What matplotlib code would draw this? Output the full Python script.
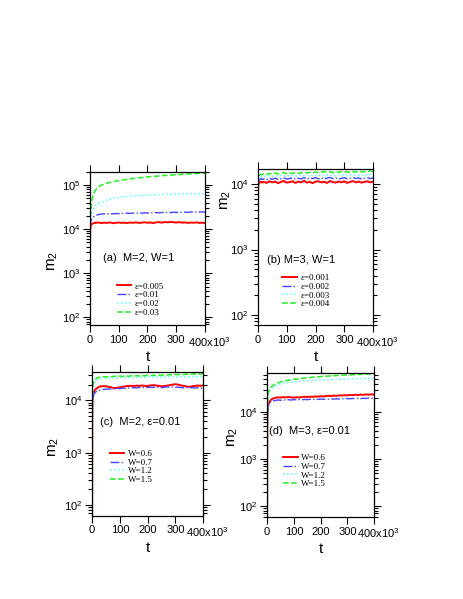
import matplotlib
matplotlib.use("Agg")
import matplotlib.pyplot as plt
import matplotlib.transforms as mtransforms
from matplotlib.ticker import LogLocator, NullFormatter

plt.rcParams['font.family'] = ['Liberation Sans', 'DejaVu Sans']
plt.rcParams['mathtext.fontset'] = 'custom'
plt.rcParams['mathtext.rm'] = 'Liberation Sans'
plt.rcParams['mathtext.it'] = 'Liberation Sans:italic'
plt.rcParams['mathtext.default'] = 'regular'

# time in units of 10^3, m2 in units of 10^3
t = [0, 0.5, 1, 2, 4, 7, 10, 15, 20,
     30, 40, 50, 60, 70, 80, 90, 100, 110, 120,
     130, 140, 150, 160, 170, 180, 190, 200, 210, 220,
     230, 240, 250, 260, 270, 280, 290, 300, 310, 320,
     330, 340, 350, 360, 370, 380, 390, 400]

# (a) M=2, W=1
a_eps005 = [0.05, 3, 8, 11, 12.5, 13.2, 13.5, 13.8, 14.0,
            14.2, 13.8, 14.1, 13.9, 14.3, 13.7, 14.0, 14.2, 13.9, 14.1,
            13.8, 14.2, 14.0, 14.3, 13.9, 14.1, 14.4, 14.0, 14.2, 13.8,
            14.3, 14.5, 14.1, 14.6, 14.3, 14.7, 14.4, 14.2, 14.5, 14.1,
            14.3, 13.9, 14.2, 14.0, 14.3, 13.9, 14.1, 13.8]
a_eps01 = [0.05, 3.5, 9, 13, 15.5, 17, 18, 19.5, 20.5,
           21.5, 22, 22.3, 22, 22.6, 22.3, 22.8, 22.5, 23, 22.7,
           23.1, 22.8, 23.3, 23, 23.4, 23.1, 23.6, 23.2, 23.7, 23.4,
           23.9, 23.5, 24, 23.7, 24.2, 23.9, 24.3, 24, 24.5, 24.1,
           24.4, 24.2, 24.6, 24.3, 24.7, 24.4, 24.8, 24.5]
a_eps02 = [0.05, 4, 10, 15, 20, 24, 27, 31, 34,
           38, 41, 44, 46, 48.5, 50, 52, 53, 54, 55.5,
           56, 57, 57.5, 58.5, 58, 59, 59.5, 60, 60.5, 60,
           61, 61.5, 61, 62, 62.5, 62, 63, 62.5, 63, 63.5,
           63, 64, 63.5, 64, 64.5, 64, 63.5, 64]
a_eps03 = [0.05, 4, 11, 18, 30, 45, 55, 68, 78,
           92, 100, 106, 111, 116, 120, 124, 127, 130, 133,
           136, 139, 142, 144, 147, 149, 151, 154, 156, 158,
           160, 162, 164, 166, 167, 169, 171, 173, 174, 176,
           177, 179, 181, 182, 184, 185, 187, 188]

# (b) M=3, W=1
b_eps001 = [0.06, 5, 8.5, 9.8, 10.3, 10.6, 10.9, 10.5, 10.8,
            10.4, 11.0, 10.6, 10.9, 10.3, 10.8, 11.1, 10.5, 10.7, 11.0,
            10.4, 10.9, 10.6, 11.2, 10.5, 10.8, 10.3, 10.9, 11.0, 10.6,
            10.8, 10.4, 11.1, 10.7, 10.5, 10.9, 10.6, 11.0, 10.4, 10.8,
            11.1, 10.6, 10.9, 10.5, 10.8, 11.0, 10.6, 10.9]
b_eps002 = [0.06, 5.5, 9, 10.8, 11.4, 11.8, 12.1, 11.7, 12.0,
            11.6, 12.2, 11.8, 12.3, 11.7, 12.0, 12.4, 11.9, 12.1, 12.5,
            11.8, 12.2, 12.0, 12.6, 11.9, 12.3, 12.1, 12.5, 12.0, 12.4,
            11.9, 12.3, 12.6, 12.1, 12.4, 11.9, 12.2, 12.5, 12.0, 12.3,
            12.6, 12.1, 12.4, 11.9, 12.3, 12.5, 12.1, 12.4]
b_eps003 = [0.06, 6, 9.5, 11.5, 12.3, 12.8, 13.1, 12.9, 13.2,
            13.0, 13.4, 13.1, 13.6, 13.2, 13.5, 13.1, 13.7, 13.3, 13.6,
            13.2, 13.5, 13.8, 13.3, 13.6, 13.2, 13.7, 13.4, 13.8, 13.3,
            13.6, 13.9, 13.4, 13.7, 13.3, 13.8, 13.5, 13.9, 13.4, 13.7,
            14.0, 13.5, 13.8, 13.4, 13.9, 13.6, 14.0, 13.7]
b_eps004 = [0.06, 6.5, 10, 12.3, 13.2, 13.8, 14.1, 13.9, 14.3,
            14.0, 14.5, 14.2, 14.7, 14.3, 14.6, 14.9, 14.4, 14.8, 14.5,
            15.0, 14.6, 14.9, 15.2, 14.7, 15.1, 14.8, 15.3, 14.9, 15.2,
            15.5, 15.0, 15.3, 14.9, 15.4, 15.1, 15.6, 15.2, 15.4, 15.0,
            15.5, 15.2, 15.7, 15.3, 15.6, 15.4, 15.8, 15.5]

# (c) M=2, eps=0.01
c_w06 = [0.06, 4, 8, 11.5, 13.5, 14.8, 15.8, 16.8, 17.6,
         18.5, 18.8, 18.6, 18.2, 17.6, 17.2, 17.4, 17.8, 18.3, 18.6,
         18.9, 19.1, 18.8, 19.2, 18.9, 19.3, 19.0, 18.8, 19.4, 19.6,
         19.3, 19.0, 18.6, 18.9, 19.2, 19.6, 20.1, 20.4, 20.0, 19.4,
         18.9, 18.5, 18.2, 18.6, 18.9, 19.3, 19.0, 19.5]
c_w07 = [0.06, 3.5, 7, 10, 12, 13.2, 14.0, 14.8, 15.3,
         15.8, 16.2, 16.5, 16.4, 16.7, 16.6, 17.0, 16.8, 17.2, 17.0,
         17.4, 17.2, 17.6, 17.3, 17.7, 17.5, 17.9, 17.6, 18.0, 17.7,
         18.1, 17.8, 17.5, 17.9, 18.2, 17.8, 18.1, 17.7, 18.0, 17.6,
         17.4, 17.7, 17.3, 17.6, 17.2, 17.5, 17.1, 17.0]
c_w12 = [0.06, 5, 10, 15, 19, 21.5, 23, 24.5, 25.3,
         26.0, 26.5, 26.2, 26.8, 26.4, 27.0, 26.6, 27.2, 26.8, 27.4,
         27.0, 27.5, 27.1, 27.7, 27.3, 27.8, 27.4, 28.0, 27.5, 28.1,
         27.7, 28.2, 27.8, 28.4, 27.9, 28.5, 28.0, 28.6, 28.1, 28.7,
         28.2, 28.8, 28.3, 28.9, 28.4, 28.7, 28.3, 28.8]
c_w15 = [0.06, 5.5, 11, 16.5, 21, 23.5, 25, 26.5, 27.3,
         28.0, 28.6, 28.1, 28.9, 28.4, 29.1, 28.6, 29.3, 28.8, 29.5,
         29.0, 29.6, 29.1, 29.8, 29.3, 30.0, 29.5, 30.2, 29.7, 30.4,
         29.9, 30.6, 30.1, 30.9, 30.4, 31.2, 30.7, 31.5, 31.0, 31.8,
         31.3, 32.0, 31.5, 32.3, 31.7, 32.5, 31.9, 32.6]

# (d) M=3, eps=0.01
d_w06 = [0.06, 4, 8, 11.5, 14, 15.8, 17, 18.3, 19.2,
         20.0, 20.5, 20.3, 20.8, 20.4, 20.9, 20.5, 20.2, 20.7, 20.4,
         20.9, 21.2, 20.8, 21.3, 21.0, 21.5, 21.2, 21.7, 21.4, 21.9,
         22.2, 21.8, 22.4, 22.1, 22.7, 22.4, 22.9, 22.6, 23.1, 22.8,
         23.3, 23.0, 23.5, 23.2, 23.7, 23.4, 23.8, 23.5]
d_w07 = [0.06, 3.5, 7, 10.5, 13, 14.6, 15.6, 16.5, 17.1,
         17.6, 18.0, 17.8, 18.2, 17.9, 18.3, 18.0, 18.4, 18.1, 18.5,
         18.2, 18.6, 18.3, 18.7, 18.4, 18.8, 18.5, 18.9, 18.6, 19.0,
         18.7, 19.1, 18.8, 19.2, 18.9, 19.3, 19.0, 19.4, 19.1, 19.5,
         19.2, 19.6, 19.3, 19.7, 19.4, 19.8, 19.5, 19.8]
d_w12 = [0.06, 6, 12, 18, 23, 26.5, 28.5, 31, 33,
         35.5, 37.5, 39.5, 40.5, 41.5, 42.5, 43.0, 43.8, 44.3, 45.0,
         45.3, 45.9, 46.2, 46.7, 46.9, 47.4, 47.5, 48.0, 48.1, 48.6,
         48.7, 49.1, 49.2, 49.6, 49.6, 50.0, 50.1, 50.4, 50.5, 50.8,
         50.9, 51.1, 51.3, 51.4, 51.6, 51.7, 51.9, 52.0]
d_w15 = [0.06, 6.5, 13, 20, 25, 29, 31.5, 34, 36,
         39, 41.5, 43.5, 45, 46.3, 47.5, 48.5, 49.5, 50.3, 51.2,
         52, 52.8, 53.5, 54.2, 54.8, 55.5, 56, 56.6, 57.1, 57.7,
         58.2, 58.7, 59.2, 59.7, 60.1, 60.6, 61, 61.4, 61.8, 62.2,
         62.6, 63, 63.3, 63.7, 64, 64.3, 64.6, 65]

xticks = [0, 100, 200, 300, 400]
xticklabels = ['0', '100', '200', '300', '400x10$^3$']

styles = [dict(color='#ff0000', ls='-', lw=1.4),
          dict(color='#4444ff', ls='-.', lw=1.0),
          dict(color='#55ffff', ls=':', lw=1.1),
          dict(color='#22ee22', ls='--', lw=1.1)]

panels = [
    dict(rect=[0.194, 0.457, 0.249, 0.256], ylim=(66, 2.0e5),
         series=[a_eps005, a_eps01, a_eps02, a_eps03],
         labels=['ε=0.005', 'ε=0.01', 'ε=0.02', 'ε=0.03'],
         title='(a)  M=2, W=1', tpos=(0.11, 0.44), lpos=(0.235, 0.28),
         ylab=(-0.26, 0.42)),
    dict(rect=[0.557, 0.457, 0.249, 0.261], ylim=(70, 1.7e4),
         series=[b_eps001, b_eps002, b_eps003, b_eps004],
         labels=['ε=0.001', 'ε=0.002', 'ε=0.003', 'ε=0.004'],
         title='(b) M=3, W=1', tpos=(0.08, 0.42), lpos=(0.21, 0.33),
         ylab=(-0.22, 0.80)),
    dict(rect=[0.199, 0.139, 0.240, 0.240], ylim=(62, 3.5e4),
         series=[c_w06, c_w07, c_w12, c_w15],
         labels=['W=0.6', 'W=0.7', 'W=1.2', 'W=1.5'],
         title='(c)  M=2, ε=0.01', tpos=(0.07, 0.65), lpos=(0.16, 0.46),
         ylab=(-0.28, 0.48)),
    dict(rect=[0.577, 0.137, 0.231, 0.240], ylim=(59, 6.7e4),
         series=[d_w06, d_w07, d_w12, d_w15],
         labels=['W=0.6', 'W=0.7', 'W=1.2', 'W=1.5'],
         title='(d)  M=3, ε=0.01', tpos=(0.015, 0.60), lpos=(0.15, 0.44),
         ylab=(-0.25, 0.56)),
]

fig = plt.figure(figsize=(4.63, 5.99), dpi=100)
shift = mtransforms.ScaledTranslation(4 / 100, 0, fig.dpi_scale_trans)

for p in panels:
    ax = fig.add_axes(p['rect'])
    for ys, st, lab in zip(p['series'], styles, p['labels']):
        ax.plot(t, [y * 1000 for y in ys], label=lab, **st)
    ax.set_yscale('log')
    ax.set_ylim(*p['ylim'])
    ax.set_xlim(0, 400)
    ax.set_xticks(xticks)
    ax.set_xticklabels(xticklabels)
    ax.yaxis.set_major_locator(LogLocator(base=10, numticks=10))
    ax.yaxis.set_minor_locator(LogLocator(base=10, subs=range(2, 10), numticks=10))
    ax.yaxis.set_minor_formatter(NullFormatter())
    ax.tick_params(which='both', direction='out', top=True, right=True,
                   labelsize=8, width=0.8, pad=2)
    ax.tick_params(which='major', length=5)
    ax.tick_params(which='minor', length=3)
    lab400 = ax.get_xticklabels()[-1]
    lab400.set_transform(lab400.get_transform() + shift)
    for s in ax.spines.values():
        s.set_linewidth(0.9)
    ax.set_xlabel('t', fontsize=11, labelpad=1)
    ax.set_ylabel('m$_2$', fontsize=11)
    ax.yaxis.set_label_coords(*p['ylab'])
    ax.text(p['tpos'][0], p['tpos'][1], p['title'], transform=ax.transAxes,
            fontsize=8, va='center', ha='left')
    ax.legend(loc='upper left', bbox_to_anchor=p['lpos'], frameon=False,
              prop={'family': 'Liberation Serif', 'size': 6.5},
              handlelength=1.6, handletextpad=0.4, labelspacing=0.05,
              borderpad=0, borderaxespad=0)

fig.savefig('out.png', dpi=100)
